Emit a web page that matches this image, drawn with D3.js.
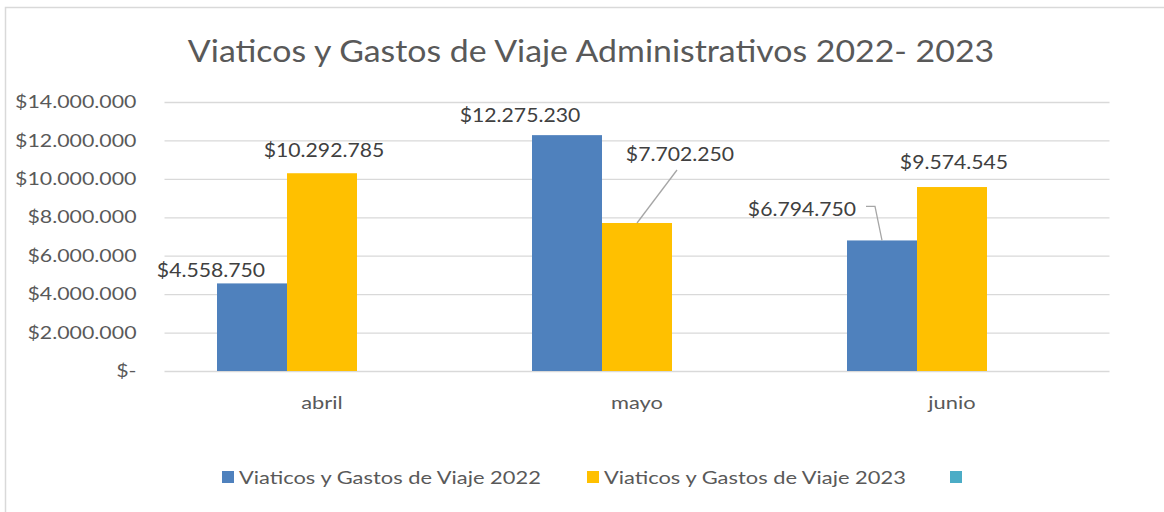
<!DOCTYPE html>
<html>
<head>
<meta charset="utf-8">
<script src="https://cdn.jsdelivr.net/npm/d3@7"></script>
<style>
  body { margin: 0; background: #fff; }
  svg { display: block; font-family: Lato, "Open Sans", sans-serif; }
</style>
</head>
<body>
<div id="chart"></div>
<script>
// data
const months = ["abril", "mayo", "junio"];
const series = ["Viaticos y Gastos de Viaje 2022", "Viaticos y Gastos de Viaje 2023", ""];
const values2022 = [4558750, 12275230, 6794750];
const values2023 = [10292785, 7702250, 9574545];
const values3 = [0, 0, 0];
const yTicks = [0, 2000000, 4000000, 6000000, 8000000, 10000000, 12000000, 14000000];
const colors = ["#4f81bd", "#ffc000", "#4bacc6"];

const width = 1164, height = 512;
const margin = {left: 164.5, right: 54.5, top: 102, bottom: 141};

// the original text is wider than Lato, stretch it sideways around its anchor
function stretch(sel, sx) {
  sel.attr("transform", function () {
    const x = +this.getAttribute("x") || 0;
    return `translate(${x * (1 - sx)},0) scale(${sx},1)`;
  });
}

const svg = d3.select("#chart").append("svg")
    .attr("width", width)
    .attr("height", height);

// chart border (goes beyond the picture on right and bottom)
svg.append("rect")
    .attr("x", 5.5).attr("y", 7.5)
    .attr("width", 1200).attr("height", 600)
    .attr("fill", "none").attr("stroke", "#d9d9d9").attr("stroke-width", 1.5);

// bit of caption text cut off at the top
svg.append("text").attr("x", 33).attr("y", -4)
    .attr("font-size", 20).attr("fill", "#000").text("g");

const x0 = d3.scaleBand().domain(months)
    .range([margin.left, width - margin.right])
    .paddingInner(0).paddingOuter(0);
const x1 = d3.scaleBand().domain(d3.range(series.length))
    .range([0, x0.bandwidth()])
    .paddingInner(0).paddingOuter(0.75);
const y = d3.scaleLinear().domain([0, 14000000])
    .range([height - margin.bottom, margin.top]);

const fmt = v => v === 0 ? "$-" : "$" + d3.format(",")(v).replace(/,/g, ".");

// title
svg.append("text")
    .attr("x", 591).attr("y", 62)
    .attr("text-anchor", "middle")
    .attr("font-size", 30.5)
    .attr("fill", "#595959")
    .text("Viaticos y Gastos de Viaje Administrativos 2022- 2023")
    .call(stretch, 1.11);

// grid + y axis
const yAxis = svg.append("g")
    .attr("transform", `translate(${margin.left},0)`)
    .call(d3.axisLeft(y).tickValues(yTicks).tickSize(-(width - margin.left - margin.right)).tickPadding(28).tickFormat(fmt));
yAxis.select(".domain").remove();
yAxis.selectAll(".tick line").attr("stroke", "#d9d9d9").attr("stroke-width", 1.3);
yAxis.selectAll(".tick text")
    .attr("font-size", 17.5)
    .attr("fill", "#595959")
    .attr("font-family", "Lato, sans-serif")
    .call(stretch, 1.22);

// x labels
svg.append("g").selectAll("text").data(months).join("text")
    .attr("x", d => x0(d) + x0.bandwidth() / 2)
    .attr("y", 409)
    .attr("text-anchor", "middle")
    .attr("font-size", 17.5)
    .attr("fill", "#595959")
    .text(d => d)
    .call(stretch, 1.25);

// bars
const table = months.map((m, i) => ({month: m, vals: [values2022[i], values2023[i], values3[i]]}));
const groups = svg.append("g").selectAll("g").data(table).join("g")
    .attr("transform", d => `translate(${x0(d.month)},0)`);
groups.selectAll("rect").data(d => d.vals.map((v, k) => ({k, v}))).join("rect")
    .attr("x", d => x1(d.k))
    .attr("y", d => y(d.v))
    .attr("width", x1.bandwidth())
    .attr("height", d => y(0) - y(d.v))
    .attr("fill", d => colors[d.k]);

// data labels: [dx from bar centre, baseline above bar top]
const labelOffsets = [
  [[-41, -6], [2, -16]],
  [[-47, -13], [43, -62]],
  [[-80, -24], [2, -18]]
];
table.forEach((d, i) => {
  [0, 1].forEach(k => {
    const bx = x0(d.month) + x1(k) + x1.bandwidth() / 2;
    const by = y(d.vals[k]);
    const cx = bx + labelOffsets[i][k][0];
    const cy = by + labelOffsets[i][k][1];
    svg.append("text")
        .attr("x", cx).attr("y", cy)
        .attr("text-anchor", "middle")
        .attr("font-size", 20)
        .attr("fill", "#404040")
        .text(fmt(d.vals[k]))
        .call(stretch, 1.06);
    let pts = null;
    if (i === 1 && k === 1) pts = [[cx - 3, cy + 9], [bx, by]];
    if (i === 2 && k === 0) pts = [[cx + 64, cy - 10], [bx - 7, cy - 10], [bx, by]];
    if (pts) {
      svg.append("path")
          .attr("d", d3.line()(pts))
          .attr("fill", "none")
          .attr("stroke", "#a6a6a6")
          .attr("stroke-width", 1.3);
    }
  });
});

// legend
const legendX = [222, 587, 950];
const legend = svg.append("g").selectAll("g").data(series).join("g")
    .attr("transform", (d, i) => `translate(${legendX[i]},471)`);
legend.append("rect")
    .attr("width", 12).attr("height", 12)
    .attr("fill", (d, i) => colors[i]);
legend.append("text")
    .attr("x", 17).attr("y", 13)
    .attr("font-size", 17.5)
    .attr("fill", "#595959")
    .text(d => d)
    .call(stretch, 1.25);
</script>
</body>
</html>
